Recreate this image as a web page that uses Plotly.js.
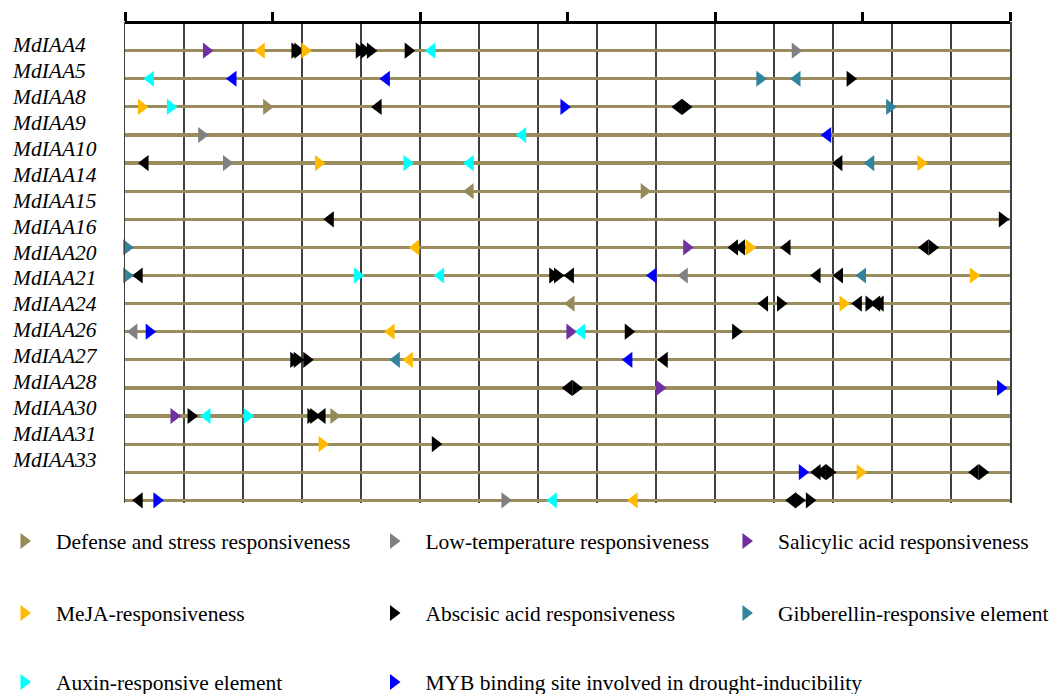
<!DOCTYPE html>
<html><head><meta charset="utf-8">
<script src="https://cdn.plot.ly/plotly-3.0.1.min.js"></script>
<style>html,body{margin:0;padding:0;background:#fff}#chart{width:1052px;height:694px}</style>
</head><body><div id="chart"></div>
<script>
// Gene rows (top to bottom)
const genes = ['MdIAA4','MdIAA5','MdIAA8','MdIAA9','MdIAA10','MdIAA14','MdIAA15','MdIAA16','MdIAA20','MdIAA21','MdIAA24','MdIAA26','MdIAA27','MdIAA28','MdIAA30','MdIAA31','MdIAA33'];

// Element categories
const categoryNames = ['Defense and stress responsiveness','Low-temperature responsiveness','Salicylic acid responsiveness','MeJA-responsiveness','Abscisic acid responsiveness','Gibberellin-responsive element','Auxin-responsive element','MYB binding site involved in drought-inducibility'];

// Positions (bp), row index into genes, strand ('+' = ▶, '-' = ◀)
const defensePos    = [240, 585, 880, 756, 354];
const defenseRow    = [2, 5, 5, 9, 13];
const defenseStrand = ['+','-','+','-','+'];

const lowTempPos    = [1136, 130, 172, 948, 15, 644];
const lowTempRow    = [0, 3, 4, 8, 10, 16];
const lowTempStrand = ['+','+','+','-','-','+'];

const salicylicPos    = [138, 952, 754, 906, 83];
const salicylicRow    = [0, 7, 10, 12, 13];
const salicylicStrand = ['+','+','+','+','+'];

const mejaPos    = [231, 305, 28, 328, 1349, 493, 1058, 1438, 1217, 451, 482, 334, 1246, 863];
const mejaRow    = [0, 0, 2, 4, 4, 7, 7, 8, 9, 10, 11, 14, 15, 16];
const mejaStrand = ['-','+','+','+','+','-','+','+','+','-','-','+','+','-'];

const abaPos = [288, 293, 397, 406, 416, 480,
                1229,
                429, 938, 950,
                34, 1210,
                348, 1487,
                1033, 1045, 1122, 1356, 1368,
                24, 725, 733, 755, 1173, 1211,
                1084, 1111, 1243, 1261, 1274, 1280,
                853, 1035,
                286, 292, 308, 914,
                752, 764,
                112, 315, 320, 334,
                526,
                1173, 1182, 1194, 1441, 1453,
                24, 1131, 1142, 1160];
const abaRow = [0,0,0,0,0,0,
                1,
                2,2,2,
                4,4,
                6,6,
                7,7,7,7,7,
                8,8,8,8,8,8,
                9,9,9,9,9,9,
                10,10,
                11,11,11,11,
                12,12,
                13,13,13,13,
                14,
                15,15,15,15,15,
                16,16,16,16];
const abaStrand = ['+','+','+','+','+','+',
                   '+',
                   '-','-','+',
                   '-','-',
                   '-','+',
                   '-','-','-','-','+',
                   '-','+','+','-','-','-',
                   '-','+','-','+','-','-',
                   '+','+',
                   '+','+','+','-',
                   '-','+',
                   '+','+','+','-',
                   '+',
                   '-','-','+','-','+',
                   '-','-','+','+'];

const gaPos    = [1076, 1139, 1296, 1264, 3, 3, 1250, 460];
const gaRow    = [1, 1, 2, 4, 7, 8, 8, 11];
const gaStrand = ['+','-','+','-','+','+','-','-'];

const auxinPos    = [520, 43, 77, 674, 478, 585, 394, 535, 774, 139, 207, 726];
const auxinRow    = [0, 1, 2, 3, 4, 4, 8, 8, 10, 13, 13, 16];
const auxinStrand = ['-','-','+','-','+','-','+','-','-','-','+','-'];

const mybPos    = [183, 443, 744, 1191, 895, 41, 854, 1484, 1148, 54];
const mybRow    = [1, 1, 2, 3, 8, 10, 11, 12, 15, 16];
const mybStrand = ['-','-','+','-','-','+','-','+','+','+'];

const axisMax = 1500;

const colors = {
  defense:'#968A58', lowTemp:'#808080', salicylic:'#7030A0', meja:'#FFBA00',
  aba:'#000000', ga:'#31849B', auxin:'#00FFFF', myb:'#0000FF'
};

const traces = [];
function addCategory(name, color, pos, row, strand, legendId) {
  ['+','-'].forEach(s => {
    const idx = pos.map((_, i) => i).filter(i => strand[i] === s);
    traces.push({
      type:'scatter', mode:'markers', name: name,
      x: idx.map(i => pos[i]), y: idx.map(i => row[i]),
      marker:{symbol: s === '+' ? 'triangle-right' : 'triangle-left', size:14, color: color, line:{width:0}},
      legend: legendId, showlegend: s === '+', legendgroup: name,
      cliponaxis:false, hoverinfo:'skip'
    });
  });
}
addCategory(categoryNames[4], colors.aba, abaPos, abaRow, abaStrand, 'legend5');
addCategory(categoryNames[0], colors.defense, defensePos, defenseRow, defenseStrand, 'legend');
addCategory(categoryNames[1], colors.lowTemp, lowTempPos, lowTempRow, lowTempStrand, 'legend2');
addCategory(categoryNames[2], colors.salicylic, salicylicPos, salicylicRow, salicylicStrand, 'legend3');
addCategory(categoryNames[3], colors.meja, mejaPos, mejaRow, mejaStrand, 'legend4');
addCategory(categoryNames[5], colors.ga, gaPos, gaRow, gaStrand, 'legend6');
addCategory(categoryNames[6], colors.auxin, auxinPos, auxinRow, auxinStrand, 'legend7');
addCategory(categoryNames[7], colors.myb, mybPos, mybRow, mybStrand, 'legend8');

// helper axes carriers
traces.push({type:'scatter', mode:'markers', x:[], y:[], xaxis:'x2', yaxis:'y', showlegend:false, hoverinfo:'skip'});
traces.push({type:'scatter', mode:'markers', x:[], y:[], xaxis:'x', yaxis:'y2', showlegend:false, hoverinfo:'skip'});

const serif = 'Liberation Serif';
function legendAt(x, y) {
  return {x:x, y:y, xanchor:'left', yanchor:'middle', orientation:'h', itemwidth:54,
          bgcolor:'rgba(0,0,0,0)', borderwidth:0, font:{family:serif, size:21.5, color:'#000'}};
}
const colX = [-0.1503, 0.2672, 0.6655];
const rowY = [-0.079, -0.2287, -0.3721];

const layout = {
  width:1052, height:694,
  margin:{l:125, r:42, t:22, b:191, autoexpand:false},
  paper_bgcolor:'#fff', plot_bgcolor:'#fff',
  showlegend:true,
  xaxis:{range:[0, axisMax], dtick:100, tick0:0, showgrid:true, gridcolor:'#404040', gridwidth:1.5,
         zeroline:false, showline:false, showticklabels:false, ticks:'', fixedrange:true},
  xaxis2:{range:[0, axisMax], overlaying:'x', anchor:'free', position:1, side:'top', dtick:250, tick0:0,
          showgrid:false, zeroline:false, showline:true, linecolor:'#000', linewidth:3,
          ticks:'outside', ticklen:9, tickwidth:3, tickcolor:'#000', showticklabels:false, fixedrange:true},
  yaxis:{range:[16.096, -1.021], tickmode:'array', tickvals:genes.map((_, i) => i),
         showgrid:true, gridcolor:'#9A8C5C', gridwidth:3.2, zeroline:false,
         showline:true, mirror:true, linecolor:'#404040', linewidth:1.5,
         showticklabels:false, ticks:'', fixedrange:true},
  yaxis2:{range:[17.656, -0.887], overlaying:'y', anchor:'x', visible:false, fixedrange:true},
  legend:  legendAt(colX[0], rowY[0]),
  legend2: legendAt(colX[1], rowY[0]),
  legend3: legendAt(colX[2], rowY[0]),
  legend4: legendAt(colX[0], rowY[1]),
  legend5: legendAt(colX[1], rowY[1]),
  legend6: legendAt(colX[2], rowY[1]),
  legend7: legendAt(colX[0], rowY[2]),
  legend8: legendAt(colX[1], rowY[2]),
  annotations: genes.map((g, i) => ({
    xref:'paper', yref:'y2', x:-0.1305, y:i, xanchor:'left', yanchor:'middle',
    text:'<i>' + g + '</i>', showarrow:false, font:{family:serif, size:21.5, color:'#000'}
  })),
  hovermode:false
};

Plotly.newPlot('chart', traces, layout, {displayModeBar:false, staticPlot:true});
</script>
</body></html>
